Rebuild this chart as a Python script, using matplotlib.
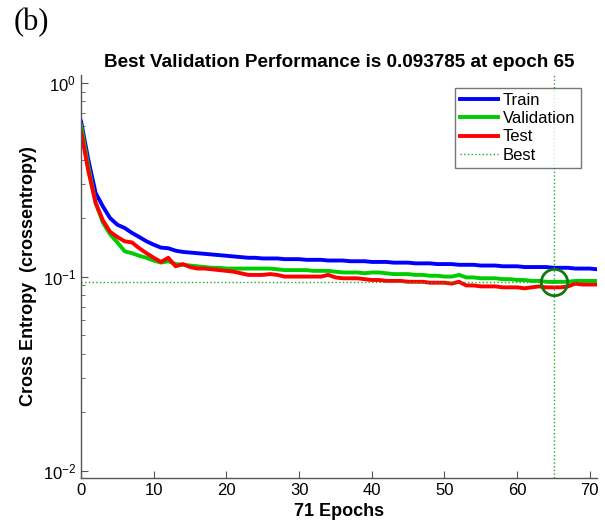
import matplotlib
matplotlib.use("Agg")
import matplotlib.pyplot as plt
import numpy as np

plt.rcParams.update({
    "font.family": ["Liberation Sans", "DejaVu Sans"],
    "mathtext.fontset": "custom",
    "mathtext.rm": "Liberation Sans",
})

# ─── 数据 ─────────────────────────────────────────
epochs = list(range(72))

train = [0.63, 0.40, 0.27, 0.23, 0.20, 0.185, 0.178, 0.168, 0.160, 0.152,
         0.146, 0.141, 0.140, 0.136, 0.134, 0.133, 0.132, 0.131, 0.130, 0.129,
         0.128, 0.127, 0.126, 0.125, 0.125, 0.124, 0.124, 0.124, 0.123, 0.123,
         0.123, 0.122, 0.122, 0.122, 0.121, 0.121, 0.121, 0.120, 0.120, 0.120,
         0.119, 0.119, 0.119, 0.118, 0.118, 0.118, 0.117, 0.117, 0.117, 0.116,
         0.116, 0.116, 0.115, 0.115, 0.115, 0.114, 0.114, 0.114, 0.113, 0.113,
         0.113, 0.112, 0.112, 0.112, 0.112, 0.111, 0.111, 0.111, 0.110, 0.110,
         0.110, 0.109]

validation = [0.60, 0.37, 0.24, 0.19, 0.165, 0.150, 0.135, 0.132, 0.128, 0.125,
              0.121, 0.118, 0.120, 0.116, 0.115, 0.114, 0.113, 0.112, 0.111, 0.111,
              0.110, 0.110, 0.110, 0.110, 0.110, 0.110, 0.110, 0.109, 0.108, 0.108,
              0.108, 0.108, 0.107, 0.107, 0.107, 0.106, 0.105, 0.105, 0.105, 0.104,
              0.105, 0.105, 0.104, 0.103, 0.103, 0.103, 0.102, 0.102, 0.101, 0.101,
              0.100, 0.100, 0.102, 0.099, 0.099, 0.098, 0.098, 0.098, 0.097, 0.097,
              0.096, 0.096, 0.095, 0.095, 0.094, 0.093785, 0.094, 0.094, 0.095, 0.095,
              0.095, 0.095]

test = [0.56, 0.35, 0.24, 0.195, 0.170, 0.160, 0.152, 0.150, 0.140, 0.132,
        0.125, 0.119, 0.125, 0.113, 0.116, 0.112, 0.110, 0.110, 0.109, 0.108,
        0.107, 0.106, 0.104, 0.102, 0.102, 0.102, 0.103, 0.102, 0.100, 0.100,
        0.100, 0.100, 0.100, 0.100, 0.102, 0.099, 0.098, 0.098, 0.098, 0.097,
        0.096, 0.096, 0.095, 0.095, 0.095, 0.094, 0.094, 0.094, 0.093, 0.093,
        0.093, 0.092, 0.094, 0.090, 0.090, 0.089, 0.089, 0.089, 0.088, 0.088,
        0.088, 0.087, 0.088, 0.089, 0.088, 0.088, 0.088, 0.089, 0.092, 0.091,
        0.091, 0.091]

best_epoch = 65
best_value = 0.093785

x_ticks = [0, 10, 20, 30, 40, 50, 60, 70]
y_ticks = [1e-2, 1e-1, 1e0]
y_tick_labels = [r"$\mathregular{10^{-2}}$", r"$\mathregular{10^{-1}}$", r"$\mathregular{10^{0}}$"]

# ─── 绘图 ─────────────────────────────────────────
fig = plt.figure(figsize=(6.05, 5.31), dpi=100)
ax = fig.add_axes([0.134, 0.100, 0.853, 0.759])

ax.semilogy(epochs, train, color="#0000FF", linewidth=2.8, label="Train")
ax.semilogy(epochs, validation, color="#00CC00", linewidth=2.8, label="Validation")
ax.semilogy(epochs, test, color="#FF0000", linewidth=2.8, label="Test")
ax.axhline(best_value, color="#22AA22", linestyle=":", linewidth=1.0, label="Best")
ax.axvline(best_epoch, color="#22AA22", linestyle=":", linewidth=1.0)
ax.plot([best_epoch], [best_value], "o", markersize=19, markerfacecolor="none",
        markeredgecolor="#117711", markeredgewidth=2.0)

ax.set_xlim(0, 71)
ax.set_ylim(10 ** -2.038, 10 ** 0.04)
ax.set_xticks(x_ticks)
ax.set_yticks(y_ticks)
ax.set_yticklabels(y_tick_labels)

for s in ["top", "right"]:
    ax.spines[s].set_visible(False)
for s in ["left", "bottom"]:
    ax.spines[s].set_color("#555555")
    ax.spines[s].set_linewidth(1.0)
ax.tick_params(which="both", direction="in", colors="#555555", labelcolor="black",
               labelsize=12)
ax.tick_params(which="major", length=5)
ax.tick_params(which="minor", length=3)

ax.set_title("Best Validation Performance is 0.093785 at epoch 65",
             fontsize=13.6, fontweight="bold", pad=6)
ax.set_xlabel("71 Epochs", fontsize=13, fontweight="bold")
ax.set_ylabel("Cross Entropy  (crossentropy)", fontsize=13, fontweight="bold")

leg = ax.legend(loc="upper right", bbox_to_anchor=(0.968, 0.968), fontsize=12,
                handlelength=2.3, frameon=True, fancybox=False, borderpad=0.3,
                labelspacing=0.2, handletextpad=0.3, borderaxespad=0)
leg.get_frame().set_edgecolor("#555555")
leg.get_frame().set_linewidth(1.0)

fig.text(0.022, 0.985, "(b)", fontsize=22, va="top", family=["Liberation Serif"])

fig.savefig("out.png", dpi=100)
